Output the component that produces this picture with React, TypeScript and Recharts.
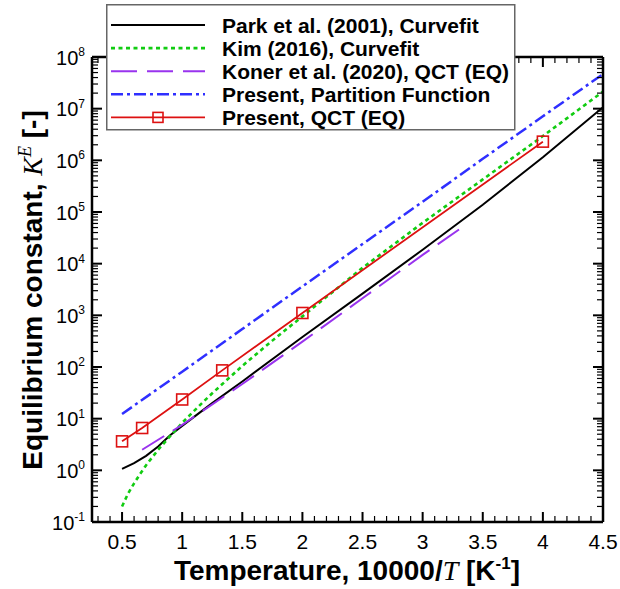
import React from 'react';
import { LineChart, Line, XAxis, YAxis, Legend } from 'recharts';

// ---- data (x = 10000/T [1/K], K = equilibrium constant) ----
const parkX = [0.5, 0.6, 0.7, 0.8, 0.9, 1.0, 1.25, 1.5, 2.0, 2.5, 3.0, 3.5, 4.0, 4.5];
const parkK = [1.07, 1.38, 1.91, 2.88, 4.79, 7.24, 20, 52.5, 380, 2630, 1.86e4, 1.38e5, 1.15e6, 1.07e7];

const kimX = [0.5, 0.55, 0.6, 0.65, 0.7, 0.8, 0.9, 1.0, 1.15, 1.25, 1.5, 1.75, 2.0, 2.5, 3.0, 3.5, 4.0, 4.5];
const kimK = [0.2, 0.355, 0.56, 0.85, 1.26, 2.5, 4.6, 8.3, 18.5, 31, 105, 324, 955, 8300, 6.17e4, 4.27e5, 2.95e6, 2.14e7];

const konerX = [0.667, 1.0, 1.5, 2.0, 2.5, 3.0, 3.333];
const konerK = [2.5, 7.6, 46.8, 309, 2140, 1.48e4, 5.13e4];

const pfX = [0.5, 1.0, 1.5, 2.0, 2.5, 3.0, 3.5, 4.0, 4.5];
const pfK = [12.3, 81, 543, 3630, 2.4e4, 1.58e5, 1.07e6, 7.1e6, 4.68e7];

const qctX = [0.5, 0.667, 1.0, 1.333, 2.0, 4.0];
const qctK = [3.64, 6.6, 23.5, 86, 1110, 2.3e6];

const xMajorTicks = [0.5, 1, 1.5, 2, 2.5, 3, 3.5, 4, 4.5];
const yMajorExponents = [-1, 0, 1, 2, 3, 4, 5, 6, 7, 8];

const seriesNames = [
  'Park et al. (2001), Curvefit',
  'Kim (2016), Curvefit',
  'Koner et al. (2020), QCT (EQ)',
  'Present, Partition Function',
  'Present, QCT (EQ)',
];

// ---- helpers ----
const zip = (xs: number[], ys: number[]) => xs.map((x, i) => ({ x, y: ys[i] }));
const parkData = zip(parkX, parkK);
const kimData = zip(kimX, kimK);
const konerData = zip(konerX, konerK);
const pfData = zip(pfX, pfK);
const qctData = zip(qctX, qctK);

const xMinor: number[] = [];
for (let i = 3; i <= 44; i++) {
  if (i % 5 !== 0) xMinor.push(i / 10);
}
const xTicks = [...xMajorTicks, ...xMinor].sort((a, b) => a - b);

const yTicks: number[] = [];
yMajorExponents.forEach((e) => {
  yTicks.push(Math.pow(10, e));
  if (e < 8) for (let m = 2; m <= 9; m++) yTicks.push(m * Math.pow(10, e));
});

const FONT = "'Liberation Sans', Arial, Helvetica, sans-serif";
const SERIF = "'Liberation Serif', 'Times New Roman', Times, serif";

const COLORS = {
  park: '#000000',
  kim: '#11cc11',
  koner: '#9933ee',
  pf: '#2f2fff',
  qct: '#dd1111',
};

const styles = [
  { stroke: COLORS.park, width: 2, dash: undefined as string | undefined, marker: false },
  { stroke: COLORS.kim, width: 2.6, dash: '4 3.5', marker: false },
  { stroke: COLORS.koner, width: 2, dash: '26 10', marker: false },
  { stroke: COLORS.pf, width: 2.5, dash: '12 4 3 4', marker: false },
  { stroke: COLORS.qct, width: 1.8, dash: undefined as string | undefined, marker: true },
];

const isMajorY = (v: number) => {
  const l = Math.log10(v);
  return Math.abs(l - Math.round(l)) < 1e-6;
};
const isMajorX = (v: number) => Math.abs(v * 2 - Math.round(v * 2)) < 1e-6;

const MAJ = 10;
const MIN = 6;

const LeftTick = (p: any) => {
  const { x, y, payload } = p;
  const v = payload.value;
  const major = isMajorY(v);
  return (
    <g>
      <line x1={x} x2={x + (major ? MAJ : MIN)} y1={y} y2={y} stroke="#000" strokeWidth={major ? 2 : 1.2} />
      {major && (
        <text x={x - 7} y={y + 7.5} textAnchor="end" fontFamily={FONT} fontSize={20} fill="#000">
          10
          <tspan dy={-8.5} fontSize={12}>{String(Math.round(Math.log10(v)))}</tspan>
        </text>
      )}
    </g>
  );
};

const RightTick = (p: any) => {
  const { x, y, payload } = p;
  const major = isMajorY(payload.value);
  return <line x1={x} x2={x - (major ? MAJ : MIN)} y1={y} y2={y} stroke="#000" strokeWidth={major ? 2 : 1.2} />;
};

const BottomTick = (p: any) => {
  const { x, y, payload } = p;
  const v = payload.value;
  const major = isMajorX(v);
  return (
    <g>
      <line x1={x} x2={x} y1={y} y2={y - (major ? MAJ : MIN)} stroke="#000" strokeWidth={major ? 2 : 1.2} />
      {major && (
        <text x={x} y={y + 27} textAnchor="middle" fontFamily={FONT} fontSize={21} fill="#000">
          {String(v)}
        </text>
      )}
    </g>
  );
};

const TopTick = (p: any) => {
  const { x, y, payload } = p;
  const major = isMajorX(payload.value);
  return <line x1={x} x2={x} y1={y} y2={y + (major ? MAJ : MIN)} stroke="#000" strokeWidth={major ? 2 : 1.2} />;
};

const SquareDot = (p: any) => {
  const { cx, cy, index } = p;
  if (cx == null || cy == null) return <g key={`d${index}`} />;
  return (
    <rect key={`d${index}`} x={cx - 5.5} y={cy - 5.5} width={11} height={11} fill="none" stroke={COLORS.qct} strokeWidth={1.6} />
  );
};

const LegendBox = () => (
  <svg width={410} height={127} style={{ display: 'block' }}>
    <rect x={0.75} y={0.75} width={408} height={125} fill="#fff" stroke="#666" strokeWidth={1.5} />
    {seriesNames.map((name, i) => {
      const s = styles[i];
      const cy = 21 + i * 23.1;
      return (
        <g key={name}>
          <line x1={5} x2={99} y1={cy} y2={cy} stroke={s.stroke} strokeWidth={s.width} strokeDasharray={s.dash} />
          {s.marker && (
            <rect x={52 - 5} y={cy - 5} width={10} height={10} fill="none" stroke={s.stroke} strokeWidth={1.6} />
          )}
          <text x={116} y={cy + 7.5} fontFamily={FONT} fontWeight="bold" fontSize={21} fill="#000">
            {name}
          </text>
        </g>
      );
    })}
  </svg>
);

const YTitle = () => (
  <text transform="translate(42,290) rotate(-90)" textAnchor="middle" fontFamily={FONT} fontWeight="bold" fontSize={28} fill="#000">
    Equilibrium constant,{' '}
    <tspan fontFamily={SERIF} fontStyle="italic" fontWeight="normal">K</tspan>
    <tspan fontFamily={SERIF} fontStyle="italic" fontWeight="normal" fontSize={18} dy={-11}>E</tspan>
    <tspan dy={11}> [-]</tspan>
  </text>
);

const XTitle = () => (
  <text x={347} y={580} textAnchor="middle" fontFamily={FONT} fontWeight="bold" fontSize={28} fill="#000">
    Temperature, 10000/
    <tspan fontFamily={SERIF} fontStyle="italic" fontWeight="normal">T</tspan>
    <tspan> [K</tspan>
    <tspan fontSize={17} dy={-11}>-1</tspan>
    <tspan dy={11}>]</tspan>
  </text>
);

export default function App() {
  const axisLine = { stroke: '#000', strokeWidth: 2.5 };
  return (
    <div style={{ position: 'absolute', left: 0, top: 0, background: '#fff' }}>
      <LineChart width={620} height={589} margin={{ top: 47, right: 7, bottom: 7, left: 0 }}>
        <XAxis
          xAxisId="b"
          dataKey="x"
          type="number"
          domain={[0.25, 4.5]}
          allowDataOverflow
          ticks={xTicks}
          interval={0}
          tick={BottomTick}
          tickLine={false}
          tickSize={0}
          tickMargin={0}
          axisLine={axisLine}
          height={60}
          label={{ content: () => <XTitle /> }}
        />
        <XAxis
          xAxisId="t"
          orientation="top"
          dataKey="x"
          type="number"
          domain={[0.25, 4.5]}
          allowDataOverflow
          ticks={xTicks}
          interval={0}
          tick={TopTick}
          tickLine={false}
          tickSize={0}
          tickMargin={0}
          axisLine={axisLine}
          height={10}
        />
        <YAxis
          yAxisId="l"
          type="number"
          scale="log"
          domain={[0.1, 1e8]}
          allowDataOverflow
          ticks={yTicks}
          interval={0}
          tick={LeftTick}
          tickLine={false}
          tickSize={0}
          tickMargin={0}
          axisLine={axisLine}
          width={92}
          label={{ content: () => <YTitle /> }}
        />
        <YAxis
          yAxisId="r"
          orientation="right"
          type="number"
          scale="log"
          domain={[0.1, 1e8]}
          allowDataOverflow
          ticks={yTicks}
          interval={0}
          tick={RightTick}
          tickLine={false}
          tickSize={0}
          tickMargin={0}
          axisLine={axisLine}
          width={10}
        />
        <Line data={parkData} dataKey="y" xAxisId="b" yAxisId="l" type="linear" stroke={COLORS.park} strokeWidth={styles[0].width} dot={false} isAnimationActive={false} />
        <Line data={kimData} dataKey="y" xAxisId="b" yAxisId="l" type="linear" stroke={COLORS.kim} strokeWidth={styles[1].width} strokeDasharray={styles[1].dash} dot={false} isAnimationActive={false} />
        <Line data={konerData} dataKey="y" xAxisId="b" yAxisId="l" type="linear" stroke={COLORS.koner} strokeWidth={styles[2].width} strokeDasharray={styles[2].dash} dot={false} isAnimationActive={false} />
        <Line data={pfData} dataKey="y" xAxisId="b" yAxisId="l" type="linear" stroke={COLORS.pf} strokeWidth={styles[3].width} strokeDasharray={styles[3].dash} dot={false} isAnimationActive={false} />
        <Line data={qctData} dataKey="y" xAxisId="b" yAxisId="l" type="linear" stroke={COLORS.qct} strokeWidth={styles[4].width} dot={SquareDot} isAnimationActive={false} />
        <Legend
          layout="vertical"
          align="center"
          verticalAlign="middle"
          content={() => <LegendBox />}
          wrapperStyle={{ position: 'absolute', left: 106, top: 4, width: 410, height: 127 }}
        />
      </LineChart>
    </div>
  );
}
